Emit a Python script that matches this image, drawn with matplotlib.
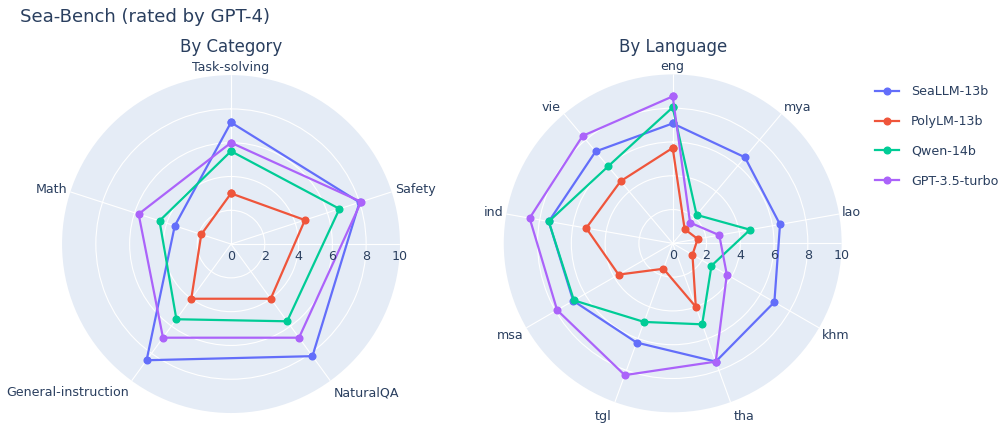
import numpy as np
import matplotlib
matplotlib.use('Agg')
import matplotlib.pyplot as plt
from matplotlib.lines import Line2D
from matplotlib.transforms import offset_copy

# Data
models = ['SeaLLM-13b', 'PolyLM-13b', 'Qwen-14b', 'GPT-3.5-turbo']
colors = ['#636EFA', '#EF553B', '#00CC96', '#AB63FA']

categories = ['Task-solving', 'Safety', 'NaturalQA', 'General-instruction', 'Math']
seallm_cat = [7.2, 8.0, 8.2, 8.5, 3.5]
polylm_cat = [3.0, 4.6, 4.0, 4.0, 1.85]
qwen_cat = [5.5, 6.75, 5.65, 5.5, 4.45]
gpt_cat = [6.0, 8.1, 6.85, 6.85, 5.75]

languages = ['eng', 'mya', 'lao', 'khm', 'tha', 'tgl', 'msa', 'ind', 'vie']
seallm_lang = [7.1, 6.65, 6.45, 6.95, 7.45, 6.25, 6.8, 7.45, 7.1]
polylm_lang = [5.65, 1.1, 1.5, 1.35, 4.0, 1.6, 3.7, 5.2, 4.8]
qwen_lang = [8.05, 2.2, 4.65, 2.65, 5.1, 4.95, 6.75, 7.45, 5.95]
gpt_lang = [8.7, 1.6, 2.8, 3.7, 7.45, 8.3, 7.9, 8.6, 8.3]

radial_ticks = [0, 2, 4, 6, 8, 10]

TEXT = '#2a3f5f'
BG = '#E5ECF6'
FS = 9.1
plt.rcParams['font.family'] = ['DejaVu Sans']

fig = plt.figure(figsize=(10.05, 4.25), dpi=100)


def radar(rect, labels, series, title):
    ax = fig.add_axes(rect, projection='polar')
    ax.set_theta_offset(np.pi / 2)
    ax.set_theta_direction(-1)
    ax.set_facecolor(BG)
    ax.spines['polar'].set_visible(False)
    n = len(labels)
    thetas = np.arange(n) * 2 * np.pi / n
    ax.set_xticks(thetas)
    ax.set_xticklabels([])
    ax.set_yticks([2, 4, 6, 8])
    ax.set_yticklabels([])
    ax.set_ylim(0, 10)
    ax.grid(color='white', linewidth=0.8)
    ax.set_axisbelow(True)
    # radial axis line pointing right
    ax.plot([np.pi / 2, np.pi / 2], [0, 10], color='white', lw=0.8, zorder=1)

    for vals, c in zip(series, colors):
        v = list(vals) + [vals[0]]
        t = list(thetas) + [thetas[0]]
        ax.plot(t, v, color=c, lw=1.6, marker='o', markersize=4.8, zorder=3, clip_on=False)

    # angular labels (plotly style)
    for th, lab in zip(thetas, labels):
        ang = np.pi / 2 - th
        c, s = np.cos(ang), np.sin(ang)
        if abs(c) < 0.05:
            ha, dx = 'center', 0
        elif c > 0:
            ha, dx = 'left', 3
        else:
            ha, dx = 'right', -3
        dy = 11.5 * s - 3.5 * abs(s)
        tr = offset_copy(ax.transData, fig=fig, x=dx, y=dy, units='dots')
        ax.text(th, 10, lab, transform=tr, ha=ha, va='center', fontsize=FS,
                color=TEXT, clip_on=False)

    # radial tick labels below the axis line
    tr = offset_copy(ax.transData, fig=fig, x=0, y=-12, units='dots')
    for r in radial_ticks:
        ax.text(np.pi / 2, r, str(r), transform=tr, ha='center', va='center',
                fontsize=FS, color=TEXT, clip_on=False)

    # subplot title above the polar
    box = ax.get_position()
    fig.text(box.x0 + box.width / 2, 1 - 47 / 425, title, fontsize=12,
             color=TEXT, ha='center', va='center')
    return ax


radar([0.0617, 0.0282, 0.3363, 0.795], categories,
      [seallm_cat, polylm_cat, qwen_cat, gpt_cat], 'By Category')
radar([0.5012, 0.0299, 0.3363, 0.795], languages,
      [seallm_lang, polylm_lang, qwen_lang, gpt_lang], 'By Language')

fig.text(20 / 1005, 1 - 17 / 425, 'Sea-Bench (rated by GPT-4)', fontsize=13.1,
         color=TEXT, ha='left', va='center')

handles = [Line2D([0], [0], color=c, lw=1.6, marker='o', markersize=4.8) for c in colors]
fig.legend(handles, models, loc='upper left', bbox_to_anchor=(875 / 1005, 1 - 85 / 425),
           frameon=False, fontsize=FS, labelcolor=TEXT, handlelength=1.9,
           handletextpad=0.95, labelspacing=1.34, borderpad=0, borderaxespad=0)

fig.savefig('out.png', dpi=100)
